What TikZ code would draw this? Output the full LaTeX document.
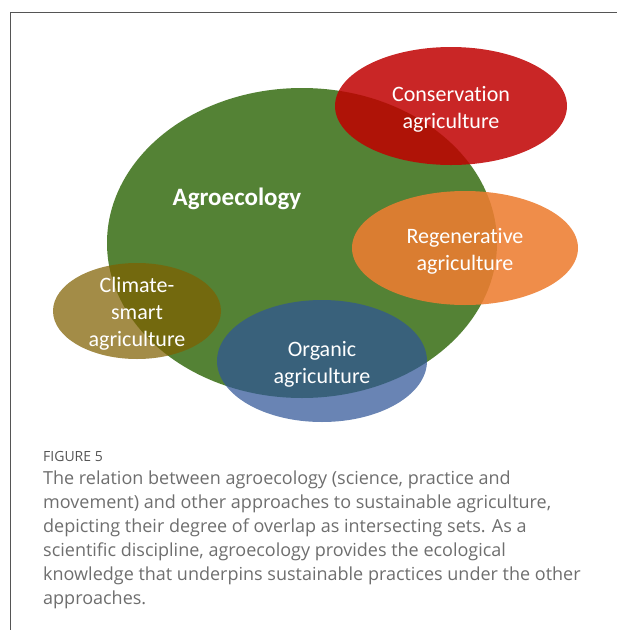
\documentclass[tikz,border=0pt]{standalone}
\usepackage{fontspec}
\setmainfont{Carlito}[Ligatures=NoCommon]
\newfontfamily\capfont{Open Sans}
\usepackage{xcolor}
\usetikzlibrary{positioning}
\definecolor{agrogreen}{HTML}{548235}
\definecolor{consred}{HTML}{C00000}
\definecolor{regenorange}{HTML}{ED7D31}
\definecolor{climolive}{HTML}{7F6000}
\definecolor{orgblue}{HTML}{2F5597}
\definecolor{captiongray}{HTML}{6E6E6E}
\definecolor{framegray}{HTML}{555555}

\begin{document}
\begin{tikzpicture}[x=1pt, y=-1pt,
  setfill/.style={draw=none, fill opacity=#1},
  setfill/.default=0.85,
  setlabel/.style={text=white, align=center, inner sep=0pt, yshift=-3pt,
    font=\fontsize{22}{27}\selectfont},
  captext/.style={text=captiongray, align=left, anchor=north west, inner sep=0pt,
    font=\capfont\fontsize{18}{24}\selectfont}]
\useasboundingbox (0,0) rectangle (617,630);
%%%%% Frame %%%%%
\draw[framegray, line width=1pt] (617,12) -- (10,12) -- (10,630);
%%%%% Sets %%%%%
\coordinate (agro) at (302,243);
\coordinate (cons) at (451,106);
\coordinate (regen) at (465,248);
\coordinate (clim) at (137,311);
\coordinate (org) at (322,361);
\fill[agrogreen] (agro) ellipse [x radius=195, y radius=155];
\fill[consred, setfill] (cons) ellipse [x radius=116, y radius=59];
\fill[regenorange, setfill=0.88] (regen) ellipse [x radius=113, y radius=57];
\fill[climolive, setfill=0.72] (clim) ellipse [x radius=84, y radius=48];
\fill[orgblue, setfill=0.72] (org) ellipse [x radius=105, y radius=61];
%%%%% Labels %%%%%
\node[setlabel, font=\fontsize{25}{30}\selectfont\bfseries] (agrolabel) at (237,196) {Agroecology};
\node[setlabel] (conslabel) at (cons) {Conservation\\agriculture};
\node[setlabel] (regenlabel) at (regen) {Regenerative\\agriculture};
\node[setlabel] (climlabel) at (clim) {Climate-\\smart\\agriculture};
\node[setlabel] (orglabel) at (org) {Organic\\agriculture};
%%%%% Caption %%%%%
\node[captext, text=framegray, font=\capfont\fontsize{14}{17}\selectfont] (figtitle) at (43,451) {FIGURE 5};
\node[captext] (caption) at (43,471) {The relation between agroecology (science, practice and\\
movement) and other approaches to sustainable agriculture,\\
depicting their degree of overlap as intersecting sets. As a\\
scientific discipline, agroecology provides the ecological\\
knowledge that underpins sustainable practices under the other\\
approaches.};
\end{tikzpicture}
\end{document}
